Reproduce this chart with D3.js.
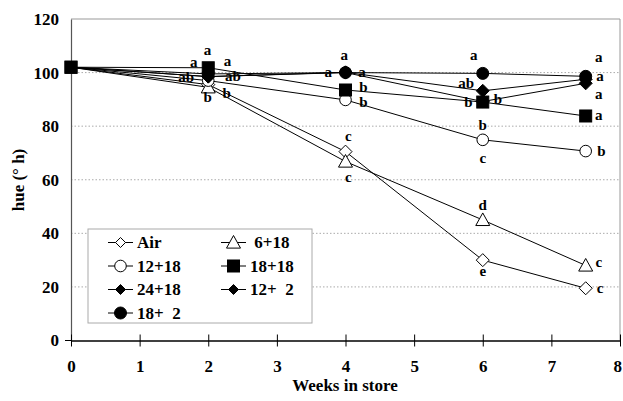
<!DOCTYPE html>
<html><head><meta charset="utf-8">
<script src="https://cdn.jsdelivr.net/npm/d3@7"></script>
<style>
html,body{margin:0;padding:0;background:#fff;}
svg{display:block;}
text{font-family:"Liberation Serif","Times New Roman",serif;font-weight:bold;fill:#000;}
</style></head>
<body>
<svg id="chart" width="623" height="401"></svg>
<script>
const weeks = [0, 2, 4, 6, 7.5];
const seriesNames = ["Air", " 6+18", "12+18", "18+18", "24+18", "12+  2", "18+  2"];
const seriesSymbols = ["diamondOpen", "triangleOpen", "circleOpen", "square", "diamond", "diamond", "circle"];
const airValues   = [102, 95.5, 70.5, 30, 19.5];
const v6_18       = [102, 94.5, 66.8, 45, 28];
const v12_18      = [102, 97, 89.8, 74.9, 70.7];
const v18_18      = [102, 101.8, 93.5, 89, 83.8];
const v24_18      = [102, 98.5, 100, 89.2, 96];
const v12_2       = [102, 98.5, 100.1, 93.2, 97.5];
const v18_2       = [102, 99.5, 100, 99.7, 98.6];
const seriesValues = [airValues, v6_18, v12_18, v18_18, v24_18, v12_2, v18_2];
const xTicks = [0,1,2,3,4,5,6,7,8];
const yTicks = [0,20,40,60,80,100,120];
// significance letters: [week, hue, letter]
const letterLabels = [
  [1.99,108.3,"a"],[1.79,104.0,"a"],[2.28,104.2,"a"],[1.68,98.4,"ab"],[2.36,98.6,"ab"],[1.99,90.7,"b"],[2.27,92.4,"b"],
  [3.98,106.4,"a"],[3.75,100.4,"a"],[4.24,100.4,"a"],[4.26,94.6,"b"],[4.26,88.9,"b"],[4.04,76.2,"c"],[4.04,61.2,"c"],
  [5.87,106.4,"a"],[5.76,96.1,"ab"],[5.79,89.0,"b"],[6.22,90.2,"b"],[6.0,80.5,"b"],[6.0,68.1,"c"],[6.0,50.7,"d"],[6.0,26.1,"e"],
  [7.69,105.8,"a"],[7.71,98.6,"a"],[7.69,92.0,"a"],[7.69,84.0,"a"],[7.73,70.6,"b"],[7.69,29.2,"c"],[7.71,19.5,"c"]
];

const svg = d3.select("#chart");
const x = d3.scaleLinear().domain([0,8]).range([71,620]);
const y = d3.scaleLinear().domain([0,120]).range([340.5,19]);

// gridlines
svg.append("g").selectAll("line").data(yTicks.filter(d=>d>0 && d<120)).join("line")
  .attr("x1",x(0)).attr("x2",x(8)).attr("y1",d=>y(d)).attr("y2",d=>y(d))
  .attr("stroke","#aaa").attr("stroke-width",1).attr("stroke-dasharray","1.5,2");
// plot border top/right
svg.append("path").attr("d",`M${x(0)},${y(120)}H${x(8)}V${y(0)}`).attr("fill","none").attr("stroke","#999").attr("stroke-width",1);

// y axis
const yAxis = svg.append("g").attr("transform",`translate(${x(0)},0)`)
  .call(d3.axisLeft(y).tickValues(yTicks).tickSize(0).tickPadding(12));
yAxis.select(".domain").attr("stroke","#555").attr("stroke-width",1.2);
yAxis.selectAll("text").style("font-size","17px").style("font-family","Liberation Serif").style("font-weight","bold");
yAxis.append("line").attr("x1",-6).attr("x2",0).attr("y1",y(0)).attr("y2",y(0)).attr("stroke","#000");

// x axis
const xAxis = svg.append("g").attr("transform",`translate(0,${y(0)})`)
  .call(d3.axisBottom(x).tickValues(xTicks).tickSize(6).tickPadding(13).tickSizeOuter(0));
xAxis.select(".domain").attr("stroke","#000").attr("stroke-width",1.5);
xAxis.selectAll(".tick line").attr("y1",-6).attr("stroke","#000");
xAxis.selectAll("text").style("font-size","17px").style("font-family","Liberation Serif").style("font-weight","bold");
xAxis.selectAll(".tick text").filter(d=>d===8).attr("text-anchor","end").attr("dx","1.5");

// axis titles
svg.append("text").attr("x",345).attr("y",391).attr("text-anchor","middle").style("font-size","17px").text("Weeks in store");
svg.append("text").attr("transform","translate(18,180) rotate(-90)").attr("text-anchor","middle").attr("dominant-baseline","central").style("font-size","17px").text("hue (° h)");

// marker drawing
function drawMarker(g, type, cx, cy){
  let p;
  if(type==="diamondOpen"||type==="diamond"){
    const r = 6.5;
    p = g.append("path").attr("d",`M${cx},${cy-r}L${cx+r},${cy}L${cx},${cy+r}L${cx-r},${cy}Z`);
    p.attr("fill", type==="diamond" ? "#000" : "#fff");
  } else if(type==="triangleOpen"){
    const r = 7;
    p = g.append("path").attr("d",`M${cx},${cy-r}L${cx+r},${cy+r*0.8}L${cx-r},${cy+r*0.8}Z`).attr("fill","#fff");
  } else if(type==="square"){
    const r = 6;
    p = g.append("rect").attr("x",cx-r).attr("y",cy-r).attr("width",2*r).attr("height",2*r).attr("fill","#000");
  } else {
    p = g.append("circle").attr("cx",cx).attr("cy",cy).attr("r",type==="circle"?6:5.8).attr("fill",type==="circle"?"#000":"#fff");
  }
  p.attr("stroke","#000").attr("stroke-width",1);
}

const line = d3.line().x((d,i)=>x(weeks[i])).y(d=>y(d));
const order = [0,1,2,3,4,5,6];
order.forEach(si=>{
  svg.append("path").attr("d",line(seriesValues[si])).attr("fill","none").attr("stroke","#000").attr("stroke-width",1);
});
order.forEach(si=>{
  const g = svg.append("g");
  seriesValues[si].forEach((v,i)=>{
    if(i===0 && si!==3) return;
    drawMarker(g, seriesSymbols[si], x(weeks[i]), y(v));
  });
});
// first point (shared): square
drawMarker(svg.append("g"), "square", x(weeks[0]), y(seriesValues[3][0]));

// letters
svg.append("g").selectAll("text").data(letterLabels).join("text")
  .attr("x",d=>x(d[0])).attr("y",d=>y(d[1])).attr("text-anchor","middle").attr("dominant-baseline","central")
  .style("font-size","15px").text(d=>d[2]);

// legend
const lg = svg.append("g");
lg.append("rect").attr("x",88).attr("y",229).attr("width",224).attr("height",94)
  .attr("fill","#fff").attr("stroke","#aaa").attr("stroke-width",1);
seriesNames.forEach((name,i)=>{
  const col = i%2, row = Math.floor(i/2);
  const lx = col===0 ? 108 : 221;
  const ly = 242.5 + row*23.5;
  lg.append("line").attr("x1",lx).attr("x2",lx+25).attr("y1",ly).attr("y2",ly).attr("stroke","#000");
  const sym = seriesSymbols[i];
  if(sym==="diamond"||sym==="diamondOpen"){
    const r=5, cx=lx+12.5;
    lg.append("path").attr("d",`M${cx},${ly-r}L${cx+r},${ly}L${cx},${ly+r}L${cx-r},${ly}Z`)
      .attr("fill",sym==="diamond"?"#000":"#fff").attr("stroke","#000");
  } else drawMarker(lg, sym, lx+12.5, ly);
  lg.append("text").attr("x",lx+29).attr("y",ly).attr("dominant-baseline","central")
    .attr("xml:space","preserve").style("white-space","pre").style("font-size","17px").text(name);
});
</script>
</body></html>
